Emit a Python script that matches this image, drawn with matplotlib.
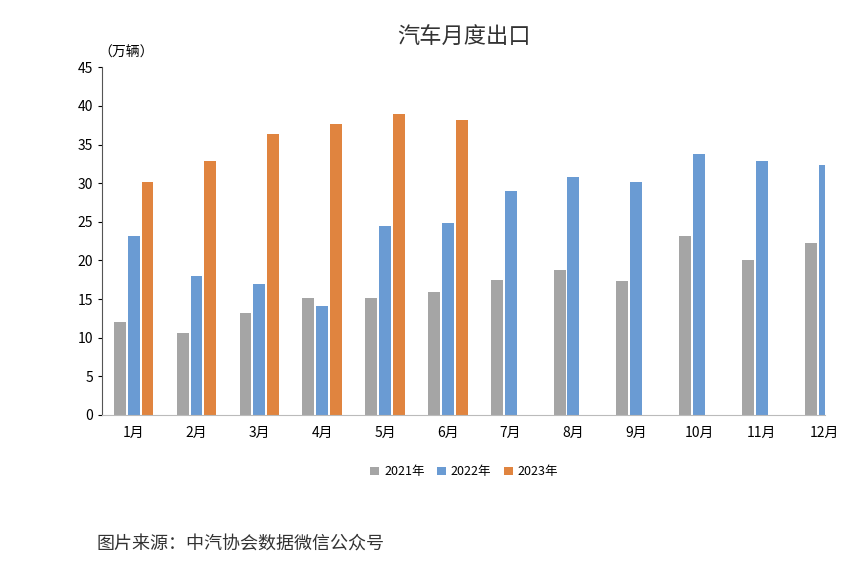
import matplotlib
matplotlib.use("Agg")
import matplotlib.pyplot as plt
import numpy as np

plt.rcParams["font.family"] = "Noto Sans CJK SC"

months = ["1月","2月","3月","4月","5月","6月","7月","8月","9月","10月","11月","12月"]
y2021 = [12.0,10.6,13.2,15.1,15.1,15.9,17.5,18.7,17.3,23.1,20.0,22.3]
y2022 = [23.1,18.0,17.0,14.1,24.5,24.9,29.0,30.8,30.2,33.8,32.9,32.4]
y2023 = [30.2,32.9,36.4,37.7,38.9,38.2]
series_names = ["2021年","2022年","2023年"]
colors = ["#a5a5a5","#6a9bd3","#e0843f"]
yticks = list(range(0,50,5))

fig = plt.figure(figsize=(8.52,5.70), dpi=100)
ax = fig.add_axes([0.12,0.272,0.848,0.61])
x = np.arange(len(months))
w = 0.19; off = 0.22
ax.bar(x-off, y2021, w, color=colors[0], label=series_names[0])
ax.bar(x, y2022, w, color=colors[1], label=series_names[1])
ax.bar(np.arange(len(y2023))+off, y2023, w, color=colors[2], label=series_names[2])
ax.set_xlim(-0.5, 10.89)
ax.set_ylim(0,45)
ax.set_yticks(yticks)
ax.set_xticks(x)
ax.set_xticklabels(months, fontsize=10)
ax.tick_params(axis="x", length=0, pad=8)
ax.tick_params(axis="y", labelsize=10, length=3)
for s in ["top","right"]:
    ax.spines[s].set_visible(False)
ax.spines["left"].set_color("#555555")
ax.spines["bottom"].set_color("#bbbbbb")
fig.text(0.115, 0.895, "（万辆）", fontsize=10, ha="left", va="bottom")
fig.text(0.545, 0.935, "汽车月度出口", fontsize=16, ha="center", va="center", color="#333333")
fig.legend(loc="center", bbox_to_anchor=(0.545, 0.172), ncol=3, frameon=False,
           fontsize=9, handlelength=0.7, handleheight=0.7, columnspacing=1.0, handletextpad=0.4)
fig.text(0.113, 0.044, "图片来源：中汽协会数据微信公众号", fontsize=13, ha="left", va="center", color="#333333")
fig.savefig("out.png", dpi=100)
